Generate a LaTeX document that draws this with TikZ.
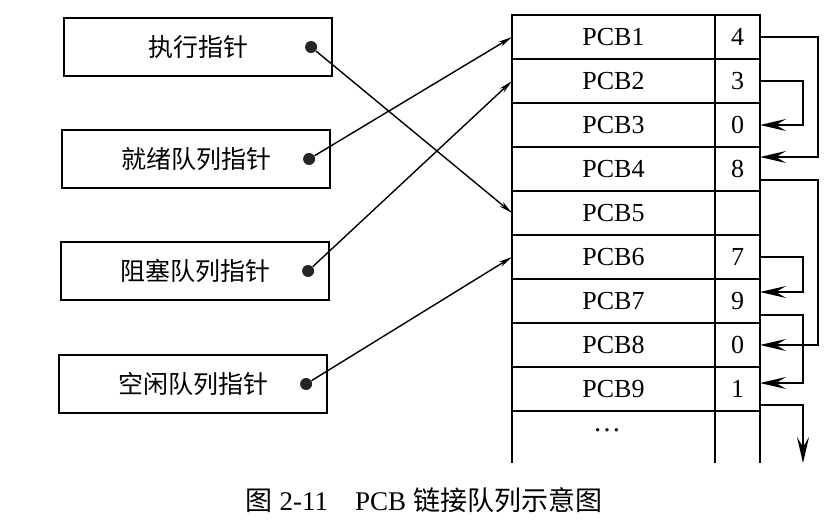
\documentclass[tikz,border=0pt]{standalone}
\usepackage{fontspec}
\setmainfont{Liberation Serif}
\newfontfamily\cjk{Noto Sans CJK SC}
\usetikzlibrary{arrows.meta}

\begin{document}
\begin{tikzpicture}[x=0.5pt,y=-0.5pt,>={Stealth[length=13pt,width=6pt,inset=5pt]},
	ptrbox/.style={draw,line width=1.1pt,minimum width=134pt,minimum height=29pt,font=\cjk\fontsize{12.5}{14}\selectfont},
	ptrdot/.style={circle,fill=black!85,inner sep=0pt,minimum size=6pt},
	pcbcell/.style={draw,line width=1.1pt,outer sep=0pt,minimum width=101.5pt,minimum height=22pt,inner sep=0pt,font=\fontsize{13}{14}\selectfont},
	nextcell/.style={draw,line width=1.1pt,outer sep=0pt,minimum width=22.5pt,minimum height=22pt,inner sep=0pt,font=\fontsize{13}{14}\selectfont},
	link/.style={->,line width=0.7pt},
	ptrlink/.style={-{Stealth[length=7pt,width=2.8pt]},line width=0.7pt}]
		\useasboundingbox (0,0) rectangle (828,529);
		% pointers
		\node[ptrbox] (exec) at (198,47) {执行指针};
		\node[ptrbox] (ready) at (196,159) {就绪队列指针};
		\node[ptrbox] (block) at (195,271) {阻塞队列指针};
		\node[ptrbox] (free) at (193,384) {空闲队列指针};
		\foreach \p in {exec,ready,block,free}
			\node[ptrdot] (\p dot) at ([xshift=-11pt]\p.east) {};
		% PCB table
		\foreach \nx [count=\i] in {4,3,0,8,{},7,9,0,1}{
			\node[pcbcell,anchor=north west] (pcb\i) at (512,{15+44*(\i-1)}) {PCB\i};
			\node[nextcell,anchor=west] (n\i) at (pcb\i.east) {\nx};
		}
		\draw[line width=1.1pt] (pcb9.south west) -- ++(0,52);
		\draw[line width=1.1pt] (pcb9.south east) -- ++(0,52);
		\draw[line width=1.1pt] (n9.south east) -- ++(0,52);
		\node[font=\fontsize{14}{16}\selectfont] (more) at (607,430) {\dots};
		% pointer links
		\draw[ptrlink] (execdot) -- (pcb5.west);
		\draw[ptrlink] (readydot) -- (pcb1.west);
		\draw[ptrlink] (blockdot) -- (pcb2.west);
		\draw[ptrlink] (freedot) -- (pcb6.west);
		% next links
		\draw[link] (n1.east) -- ++(58,0) |- ([yshift=6pt]n4.east);
		\draw[link] (n2.east) -- ++(43,0) |- (n3.east);
		\draw[link] ([yshift=-5.5pt]n4.east) -- ++(58,0) |- (n8.east);
		\draw[link] (n6.east) -- ++(43,0) |- ([yshift=4.5pt]n7.east);
		\draw[link] ([yshift=-7pt]n7.east) -- ++(43,0) |- ([yshift=3pt]n9.east);
		\draw[link] ([yshift=-8pt]n9.east) -- ++(43,0) -- ++(0,58);
		% caption
		\node (cap) at (424,500) {\fontsize{13.5}{16}\selectfont{\cjk 图} 2-11\quad PCB {\cjk 链接队列示意图}};
\end{tikzpicture}
\end{document}
